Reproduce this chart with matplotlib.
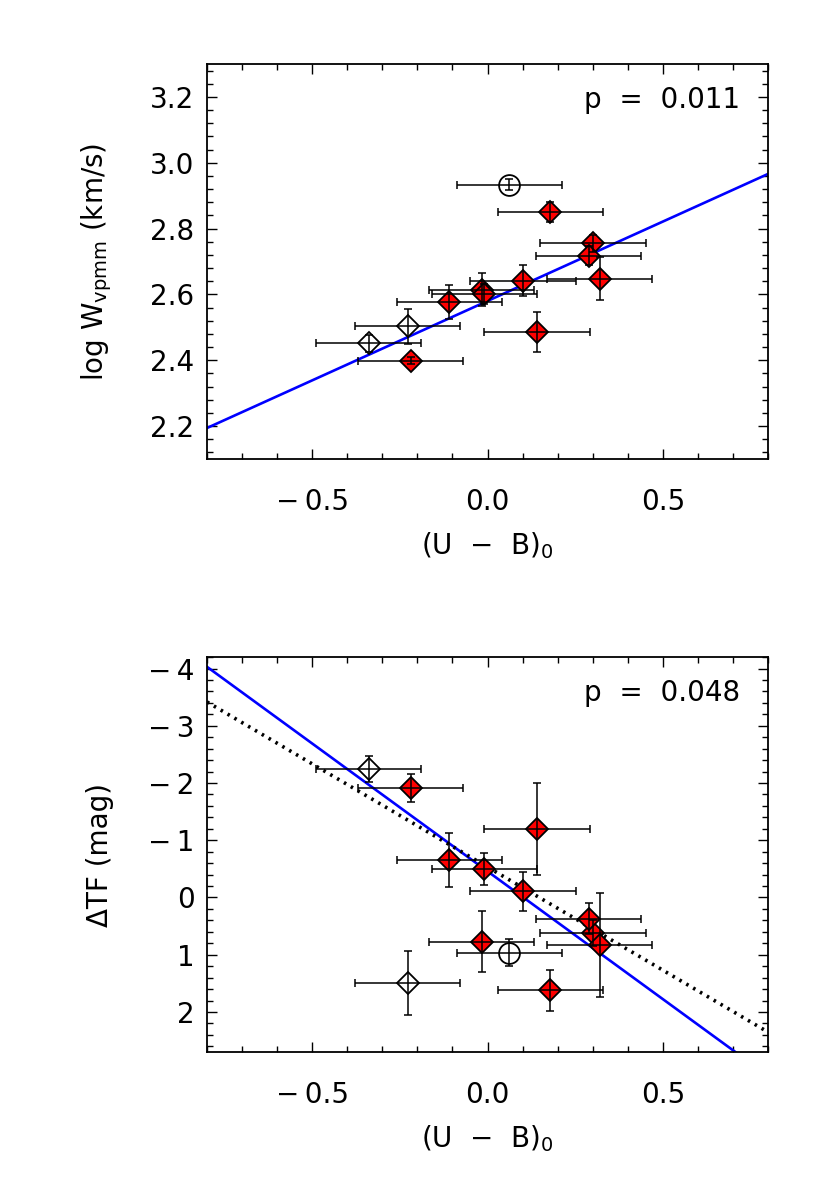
import numpy as np
import matplotlib.pyplot as plt
from matplotlib.ticker import MultipleLocator

plt.rcParams['font.family'] = ['DejaVu Sans']
plt.rcParams['mathtext.default'] = 'regular'

## Data
# filled red diamonds
ub_red = [0.179, 0.301, 0.288, 0.320, 0.101, -0.017, -0.009, -0.109, -0.219, 0.141]
logw_red = [2.850, 2.755, 2.718, 2.648, 2.642, 2.614, 2.601, 2.577, 2.399, 2.486]
logw_red_err = [0.030, 0.026, 0.030, 0.065, 0.048, 0.050, 0.030, 0.052, 0.012, 0.061]
dtf_red = [1.623, 0.621, 0.371, 0.831, -0.107, 0.773, -0.502, -0.659, -1.912, -1.195]
dtf_red_err = [0.352, 0.22, 0.27, 0.905, 0.344, 0.533, 0.28, 0.472, 0.239, 0.804]

# open diamonds
ub_open = [-0.228, -0.339]
logw_open = [2.503, 2.451]
logw_open_err = [0.054, 0.025]
dtf_open = [1.495, -2.244]
dtf_open_err = [0.553, 0.233]

# open circle
ub_circ = [0.062]
logw_circ = [2.933]
logw_circ_err = [0.017]
dtf_circ = [0.965]
dtf_circ_err = [0.233]

ub_err = 0.15  # same colour error for every galaxy

# fitted lines (intercept, slope)
fit_logw = (2.580, 0.4825)
fit_dtf = (-0.457, 4.466)
fit_dtf_dot = (-0.532, 3.605)
p_logw = 'p  =  0.011'
p_dtf = 'p  =  0.048'

FS = 20
xlim = (-0.8, 0.8)


def minus_fmt(v, pos, nd):
    s = '%.*f' % (nd, abs(v))
    return ('\u2212' + '\u2009' + s) if v < -1e-9 else s


def style_axes(ax):
    ax.set_xlim(*xlim)
    ax.xaxis.set_major_locator(MultipleLocator(0.5))
    ax.xaxis.set_minor_locator(MultipleLocator(0.1))
    ax.xaxis.set_major_formatter(plt.FuncFormatter(lambda v, p: minus_fmt(v, p, 1)))
    ax.tick_params(which='both', direction='in', top=True, right=True, width=1.0)
    ax.tick_params(which='major', length=7.5)
    ax.tick_params(which='minor', length=4)
    ax.tick_params(axis='x', which='major', pad=21, labelsize=FS)
    ax.tick_params(axis='y', which='major', pad=9, labelsize=FS)
    for s in ax.spines.values():
        s.set_linewidth(1.3)
    ax.set_xlabel('(U  $-$  B)$_0$', fontsize=FS, va='top')
    ax.xaxis.set_label_coords(0.5, -0.18)


def draw_points(ax, yr, yre, yo, yoe, yc, yce):
    kw = dict(fmt='none', ecolor='black', elinewidth=1.1, capsize=3, capthick=1.1, zorder=4)
    # markers under the error bars, bars cross the symbols
    ax.plot(ub_red, yr, 'D', ms=11.5, mfc='red', mec='black', mew=1.3, zorder=3)
    ax.plot(ub_open, yo, 'D', ms=11.5, mfc='white', mec='black', mew=1.3, zorder=3)
    ax.plot(ub_circ, yc, 'o', ms=15, mfc='white', mec='black', mew=1.3, zorder=3)
    ax.errorbar(ub_red, yr, xerr=ub_err, yerr=yre, **kw)
    ax.errorbar(ub_open, yo, xerr=ub_err, yerr=yoe, **kw)
    ax.errorbar(ub_circ, yc, xerr=ub_err, yerr=yce, **kw)


fig = plt.figure(figsize=(8.3, 11.85), dpi=100)

## Top panel
ax1 = fig.add_axes([0.2494, 0.6127, 0.676, 0.3333])
xx = np.array(xlim)
ax1.plot(xx, fit_logw[0] + fit_logw[1] * xx, color='blue', lw=1.9, zorder=2)
draw_points(ax1, logw_red, logw_red_err, logw_open, logw_open_err, logw_circ, logw_circ_err)
ax1.set_ylim(2.1, 3.3)
ax1.yaxis.set_major_locator(MultipleLocator(0.2))
ax1.yaxis.set_minor_locator(MultipleLocator(0.04))
ax1.yaxis.set_major_formatter(plt.FormatStrFormatter('%.1f'))
style_axes(ax1)
ax1.set_ylabel('log W$_{vpmm}$ (km/s)', fontsize=FS)
ax1.yaxis.set_label_coords(-0.165, 0.5)
ax1.text(0.95, 0.91, p_logw, transform=ax1.transAxes, ha='right', va='center', fontsize=FS)

## Bottom panel
ax2 = fig.add_axes([0.2494, 0.1122, 0.676, 0.3333])
ax2.plot(xx, fit_dtf[0] + fit_dtf[1] * xx, color='blue', lw=1.9, zorder=2)
ax2.plot(xx, fit_dtf_dot[0] + fit_dtf_dot[1] * xx, color='black', lw=2.6,
         linestyle=(0, (0.7, 1.5)), zorder=2)
draw_points(ax2, dtf_red, dtf_red_err, dtf_open, dtf_open_err, dtf_circ, dtf_circ_err)
ax2.set_ylim(2.7, -4.2)
ax2.yaxis.set_major_locator(MultipleLocator(1))
ax2.yaxis.set_minor_locator(MultipleLocator(0.2))
ax2.yaxis.set_major_formatter(plt.FuncFormatter(lambda v, p: minus_fmt(v, p, 0)))
style_axes(ax2)
ax2.set_ylabel('ΔTF (mag)', fontsize=FS)
ax2.yaxis.set_label_coords(-0.165, 0.5)
ax2.text(0.95, 0.91, p_dtf, transform=ax2.transAxes, ha='right', va='center', fontsize=FS)

plt.savefig('out.png', dpi=100)
